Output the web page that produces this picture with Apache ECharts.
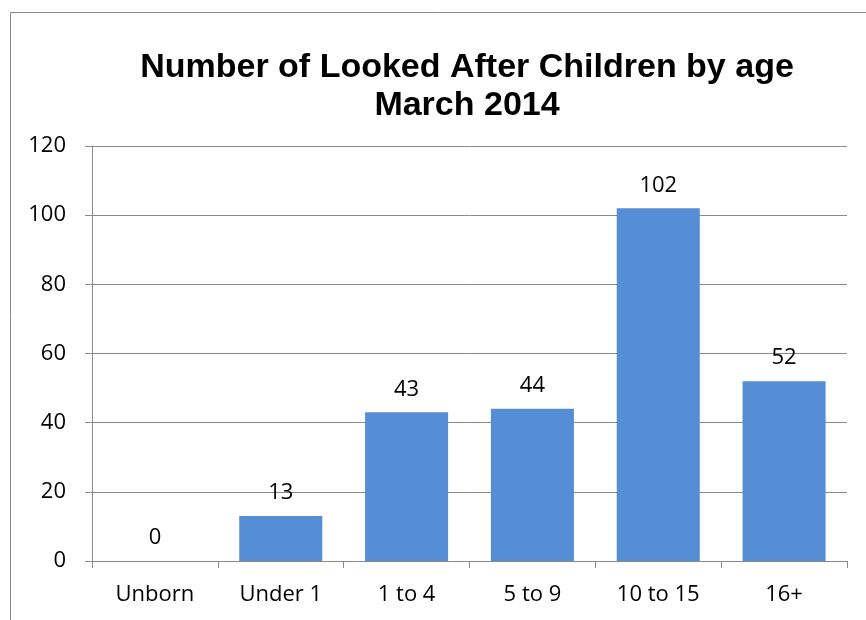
<!DOCTYPE html>
<html>
<head>
<meta charset="utf-8">
<script src="https://cdn.jsdelivr.net/npm/echarts@6/dist/echarts.min.js"></script>
<style>
  html, body { margin: 0; padding: 0; background: #ffffff; }
  #chart { width: 866px; height: 620px; }
</style>
</head>
<body>
<div id="chart"></div>
<script>
// Age bands and counts of looked after children, March 2014
const categories = ['Unborn', 'Under 1', '1 to 4', '5 to 9', '10 to 15', '16+'];
const counts = [0, 13, 43, 44, 102, 52];
const yTicks = { min: 0, max: 120, interval: 20 };
const titleLines = ['Number of Looked After Children by age', 'March 2014'];

const axisGrey = '#8a8a8a';
const labelFont = '"Open Sans", "Noto Sans", sans-serif';

const chart = echarts.init(document.getElementById('chart'), null, { renderer: 'canvas' });
chart.setOption({
  animation: false,
  backgroundColor: '#ffffff',
  title: {
    text: titleLines.join('\n'),
    left: 462,
    top: 44,
    textAlign: 'center',
    textStyle: {
      fontFamily: '"Liberation Sans", Arial, sans-serif',
      fontWeight: 'bold',
      fontSize: 34,
      lineHeight: 38,
      color: '#000000'
    }
  },
  graphic: [
    { type: 'line', shape: { x1: 10.5, y1: 12.5, x2: 866, y2: 12.5 }, style: { stroke: axisGrey, lineWidth: 1 } },
    { type: 'line', shape: { x1: 10.5, y1: 12.5, x2: 10.5, y2: 620 }, style: { stroke: axisGrey, lineWidth: 1 } }
  ],
  grid: { left: 92, right: 19, top: 146, bottom: 59, containLabel: false },
  xAxis: {
    type: 'category',
    data: categories,
    axisLine: { show: true, lineStyle: { color: axisGrey, width: 1 } },
    axisTick: { show: true, length: 7, lineStyle: { color: axisGrey } },
    axisLabel: { color: '#000000', fontFamily: labelFont, fontSize: 22, margin: 23 }
  },
  yAxis: {
    type: 'value',
    min: yTicks.min,
    max: yTicks.max,
    interval: yTicks.interval,
    axisLine: { show: true, lineStyle: { color: axisGrey, width: 1 } },
    axisTick: { show: true, length: 7, lineStyle: { color: axisGrey } },
    splitLine: { show: true, lineStyle: { color: axisGrey, width: 1 } },
    axisLabel: { color: '#000000', fontFamily: labelFont, fontSize: 22, margin: 26 }
  },
  series: [{
    type: 'bar',
    data: counts,
    barWidth: '66%',
    itemStyle: { color: '#558ed5' },
    label: {
      show: true,
      position: 'top',
      distance: 12,
      color: '#000000',
      fontFamily: labelFont,
      fontSize: 22
    }
  }]
});
</script>
</body>
</html>
